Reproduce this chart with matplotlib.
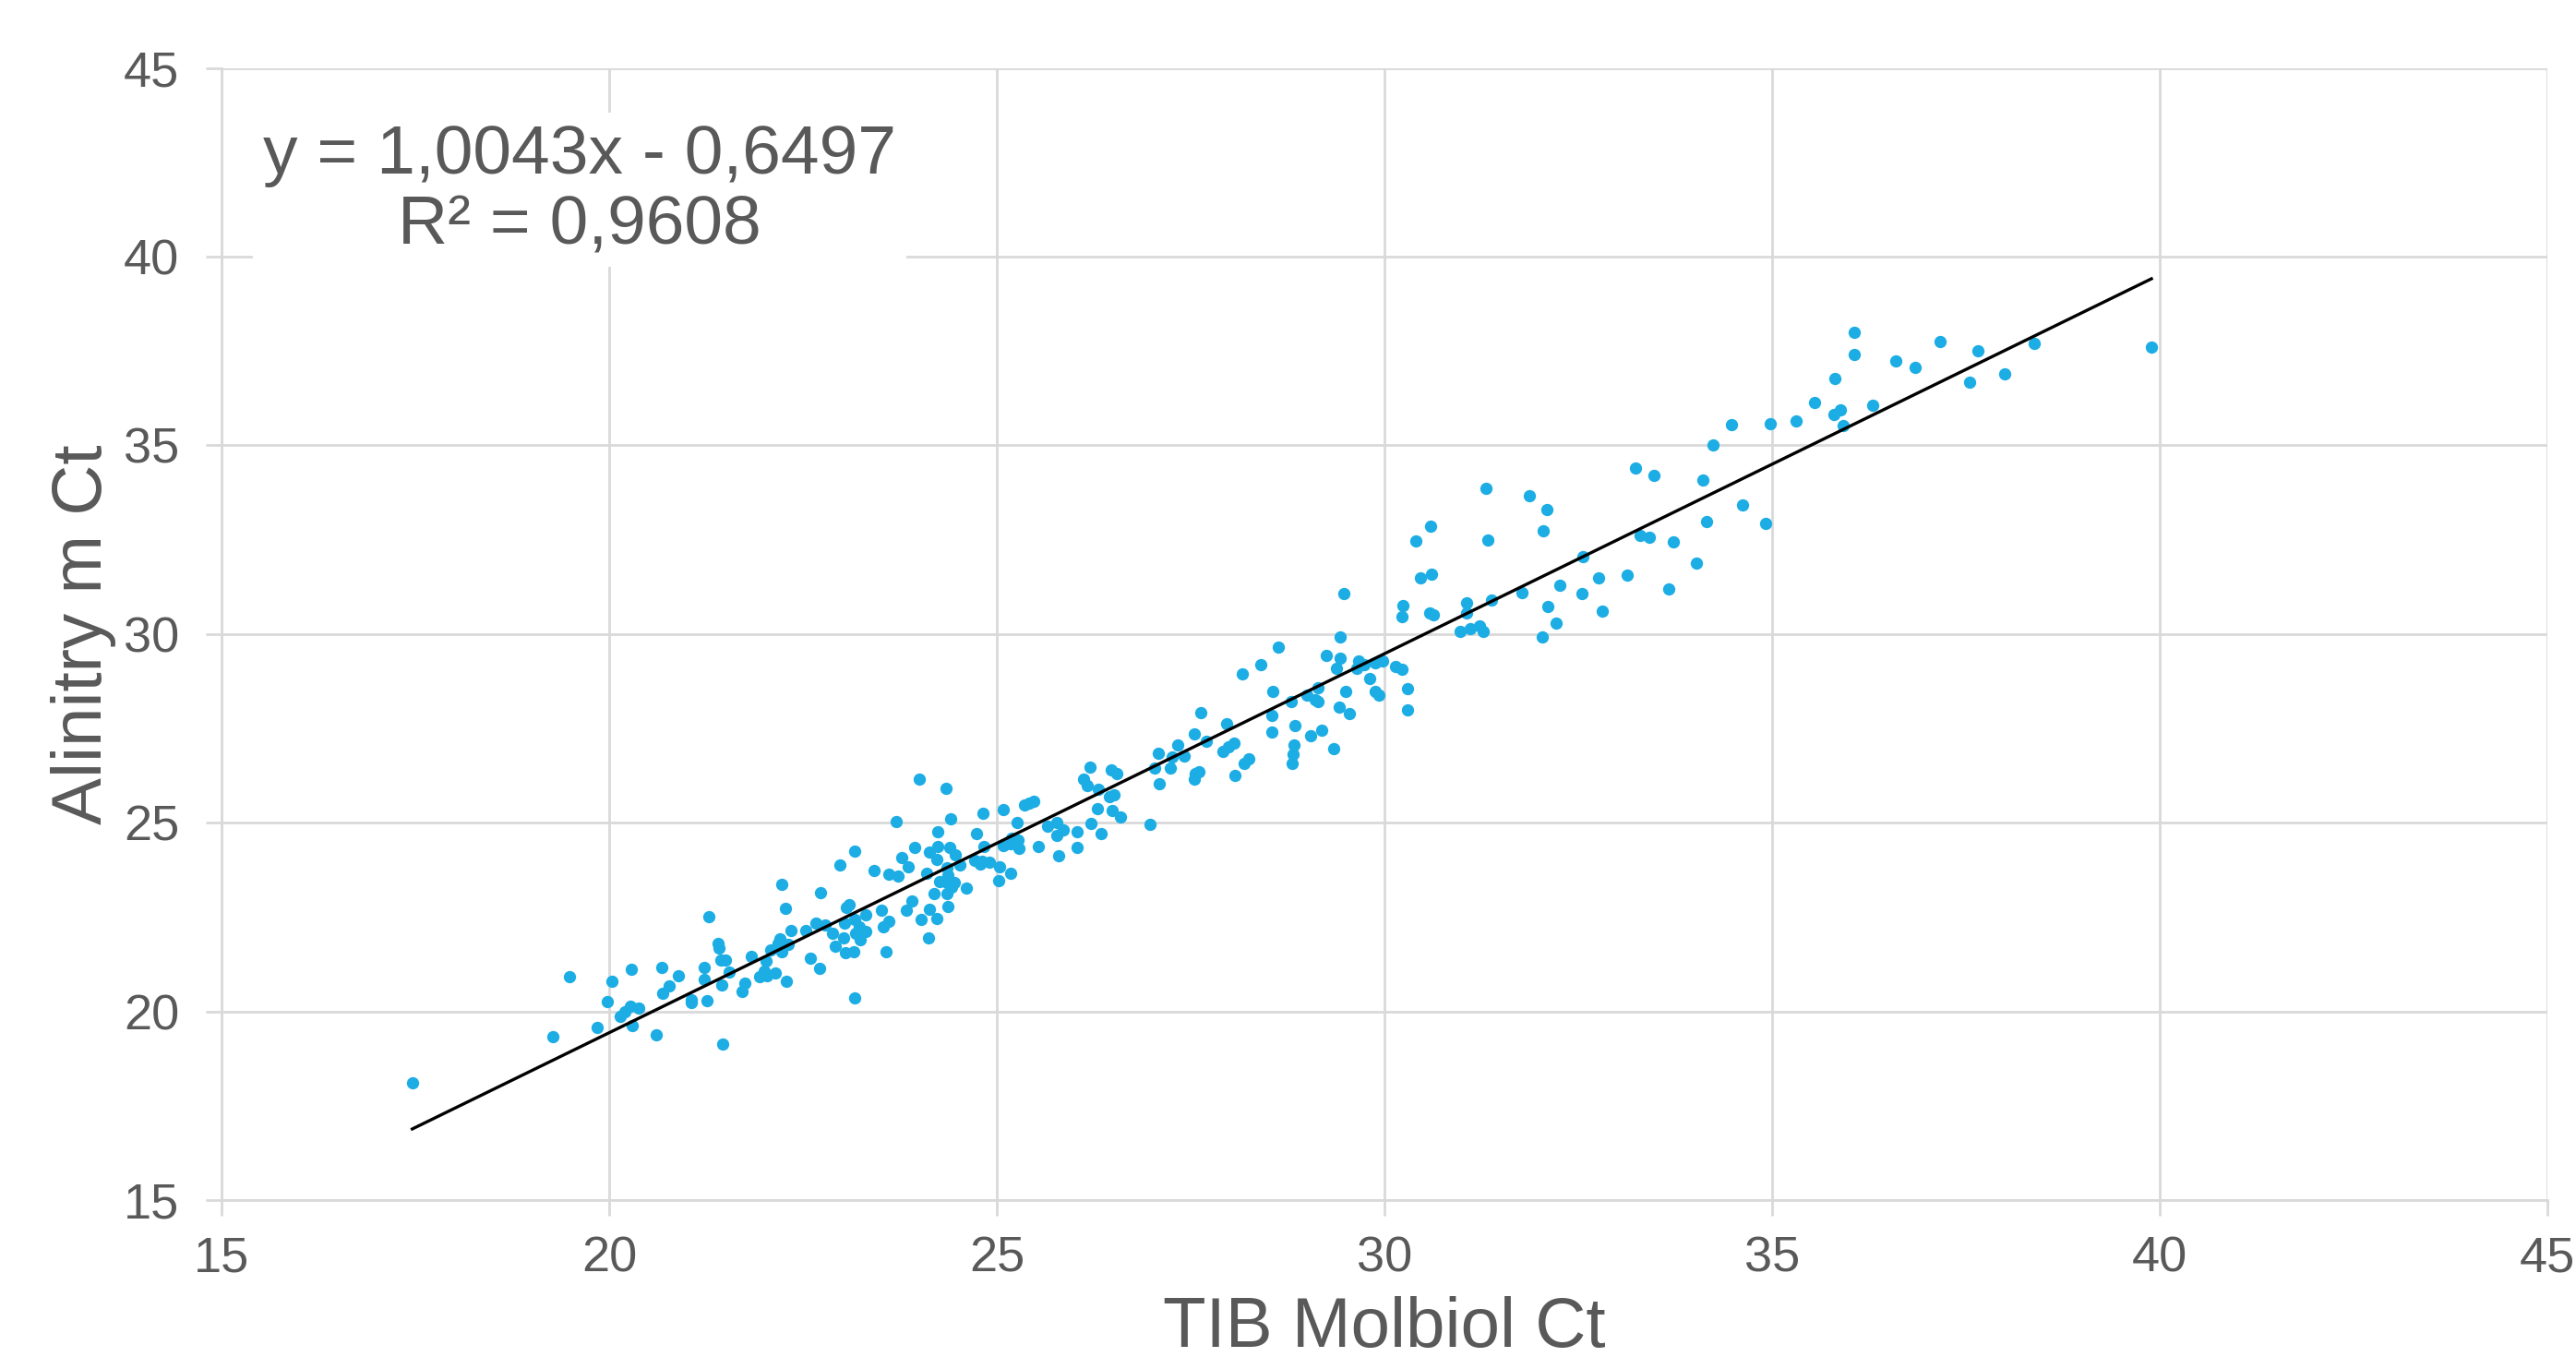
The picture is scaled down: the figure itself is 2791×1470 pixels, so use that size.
import numpy as np
import matplotlib
matplotlib.use("Agg")
import matplotlib.pyplot as plt

# TIB Molbiol Ct (x) vs Alinitry m Ct (y)
tib_ct = [
    17.46, 19.27, 19.49, 19.85, 19.98, 20.03, 20.28, 20.14, 20.20, 20.27,
    20.38, 20.30, 20.61, 20.68, 20.77, 20.69, 20.89, 21.06, 21.06, 21.26,
    21.23, 21.23, 21.29, 21.40, 21.42, 21.44, 21.50, 21.45, 21.46, 21.55,
    21.71, 21.75, 21.83, 21.94, 22.00, 22.04, 22.02, 22.08, 22.14, 22.20,
    22.18, 22.22, 22.31, 22.23, 22.27, 22.34, 22.28, 22.53, 22.59, 22.71,
    22.67, 22.72, 22.78,
    22.98, 23.16, 23.06, 23.09, 23.04, 23.16, 23.22, 23.18, 23.24, 23.31,
    23.02, 22.92, 22.88, 23.05, 23.15, 23.16, 23.31, 23.42, 23.51, 23.54,
    23.61, 23.57, 23.60, 23.73, 23.70, 23.77, 23.85, 23.94, 23.90, 23.83,
    24.02, 24.00, 24.12, 24.13, 24.22, 24.09, 24.19, 24.13, 24.22, 24.24,
    24.24, 24.34, 24.40, 24.39, 24.46, 24.52, 24.35, 24.37, 24.26, 24.35,
    24.45, 24.42, 24.35, 24.37, 24.61, 24.74, 24.82, 24.83, 24.71, 24.79,
    24.81, 24.90, 25.04, 25.02, 25.18, 25.08, 25.08, 25.19, 25.26, 25.27,
    25.29, 25.18, 25.35, 25.41, 25.47, 25.54, 25.65, 25.77, 25.86, 25.77,
    25.80, 26.03, 26.04, 26.21, 26.34, 26.20, 26.12, 26.17, 26.31, 26.30,
    26.47, 26.55, 26.45, 26.51, 26.49, 26.59, 26.98, 27.03, 27.08, 27.09,
    27.24, 27.26, 27.33, 27.42, 27.54, 27.54, 27.56, 27.60,
    27.63, 27.70, 27.96, 27.92, 27.99, 28.06, 28.07, 28.19, 28.25, 28.16,
    28.40, 28.63, 28.56, 28.55, 28.55, 28.80, 28.84, 28.83, 28.82, 28.81,
    29.04, 29.19, 29.34, 29.00, 29.10, 29.14, 29.14, 29.25, 29.42, 29.54,
    29.50, 29.38, 29.43, 29.43, 29.48, 29.64, 29.67, 29.74, 29.81, 29.88,
    29.98, 29.88, 29.93, 30.14, 30.22, 30.30, 30.30, 30.23, 30.24, 30.46,
    30.60, 30.58, 30.63, 30.98, 31.10, 31.22, 31.27, 31.06, 31.06, 31.38,
    31.77, 32.03, 32.11, 32.21, 32.26,
    30.40, 30.59, 31.31, 31.33,
    31.87, 32.09, 32.04, 32.56, 32.54, 32.76, 32.81, 33.13, 33.23, 33.47,
    33.29, 33.41, 33.72, 33.66, 34.02, 34.10, 34.15, 34.24, 34.62, 34.91,
    34.47,
    34.97, 35.31, 35.55, 35.79, 35.88, 35.91, 35.81, 36.06, 36.06, 36.30,
    36.59, 36.84, 37.16, 37.55, 37.65, 38.00, 38.38, 39.89,
]
alinity_ct = [
    18.11, 19.32, 20.92, 19.58, 20.25, 20.81, 21.11, 19.88, 19.98, 20.14,
    20.10, 19.62, 19.38, 21.16, 20.68, 20.48, 20.95, 20.30, 20.24, 20.28,
    21.17, 20.85, 22.50, 21.79, 21.68, 21.35, 21.35, 20.70, 19.14, 21.04,
    20.53, 20.75, 21.45, 20.92, 21.06, 20.94, 21.33, 21.63, 21.02, 21.92,
    21.79, 21.59, 21.77, 23.37, 22.73, 22.15, 20.80, 22.14, 21.41, 21.13,
    22.33, 23.15, 22.29,
    23.89, 24.24, 22.76, 22.82, 22.35, 22.43, 22.25, 22.07, 21.90, 22.11,
    21.94, 21.72, 22.07, 21.56, 21.58, 20.35, 22.57, 23.73, 22.69, 22.23,
    22.38, 21.58, 23.64, 23.59, 25.03, 24.07, 23.84, 24.35, 22.92, 22.68,
    22.43, 26.16, 21.94, 22.70, 22.47, 23.65, 23.13, 24.23, 24.02, 24.76,
    24.38, 25.90, 25.11, 24.35, 24.14, 23.88, 23.80, 23.61, 23.44, 23.41,
    23.41, 23.29, 23.13, 22.78, 23.27, 24.71, 25.26, 24.36, 24.01, 23.90,
    23.98, 23.95, 23.84, 23.46, 23.66, 25.35, 24.39, 24.58, 25.00, 24.53,
    24.33, 24.45, 25.47, 25.51, 25.57, 24.38, 24.90, 25.00, 24.80, 24.66,
    24.12, 24.35, 24.77, 24.97, 24.71, 26.48, 26.16, 25.98, 25.88, 25.37,
    26.40, 26.30, 25.69, 25.73, 25.33, 25.16, 24.96, 26.45, 26.83, 26.04,
    26.44, 26.75, 27.05, 26.77, 27.36, 26.16, 26.30, 26.34,
    27.92, 27.16, 27.63, 26.89, 27.02, 27.10, 26.26, 26.57, 26.70, 28.94,
    29.18, 29.66, 28.49, 27.84, 27.39, 28.22, 27.57, 27.06, 26.81, 26.57,
    27.31, 27.46, 26.97, 28.38, 28.26, 28.22, 28.57, 29.42, 28.06, 27.89,
    28.49, 29.08, 29.35, 29.93, 31.06, 29.08, 29.28, 29.18, 28.82, 29.24,
    29.28, 28.48, 28.39, 29.14, 29.06, 28.54, 27.99, 30.45, 30.76, 31.48,
    31.58, 30.55, 30.51, 30.07, 30.15, 30.22, 30.07, 30.83, 30.55, 30.91,
    31.09, 29.93, 30.73, 30.28, 31.30,
    32.46, 32.85, 33.85, 32.50,
    33.67, 33.30, 32.73, 32.05, 31.08, 31.48, 30.61, 31.56, 34.40, 34.21,
    32.62, 32.57, 32.45, 31.19, 31.89, 34.07, 32.99, 35.01, 33.41, 32.92,
    35.55,
    35.58, 35.64, 36.13, 35.82, 35.94, 35.53, 36.76, 38.00, 37.40, 36.06,
    37.24, 37.07, 37.74, 36.67, 37.50, 36.88, 37.69, 37.60,
]

slope = 1.0043
intercept = -0.6497
r_squared = 0.9608

ticks = [15, 20, 25, 30, 35, 40, 45]
text_grey = "#595959"
grid_grey = "#d9d9d9"

plt.rcParams['font.family'] = ['Liberation Sans', 'DejaVu Sans']

fig = plt.figure(figsize=(13.955, 7.35), dpi=200)
ax = fig.add_axes([0.086, 0.1156, 0.903, 0.8344])

ax.scatter(tib_ct, alinity_ct, s=23, color="#1CADE4", linewidths=0, zorder=3)

# linear trendline over the data range
xs = np.array([min(tib_ct), max(tib_ct)])
ax.plot(xs, slope * xs + intercept, color="black", lw=1.2, zorder=4)

ax.set_xlim(15, 45)
ax.set_ylim(15, 45)
ax.set_xticks(ticks)
ax.set_yticks(ticks)
ax.grid(True, color=grid_grey, lw=1.0, zorder=0)
ax.set_axisbelow(True)
for side in ["top", "right"]:
    ax.spines[side].set_visible(False)
for side in ["left", "bottom"]:
    ax.spines[side].set_color(grid_grey)
    ax.spines[side].set_linewidth(1.0)
ax.tick_params(colors=grid_grey, labelcolor=text_grey, labelsize=19.5,
               length=6, width=1.0)
ax.tick_params(axis="y", pad=10.5)
ax.tick_params(axis="x", pad=8)

ax.set_xlabel("TIB Molbiol Ct", fontsize=27.5, color=text_grey, labelpad=5.5)
ax.set_ylabel("Alinitry m Ct", fontsize=27.5, color=text_grey, labelpad=3)

eq = f"y = {slope:.4f}x - {abs(intercept):.4f}".replace(".", ",")
r2 = f"R² = {r_squared:.4f}".replace(".", ",")
ax.text(19.62, 41.76, eq + "\n" + r2, fontsize=27, color=text_grey,
        ha="center", va="center", linespacing=1.12, zorder=5,
        bbox=dict(facecolor="white", edgecolor="none", pad=4))

fig.savefig("out.png", dpi=200, facecolor="white")
